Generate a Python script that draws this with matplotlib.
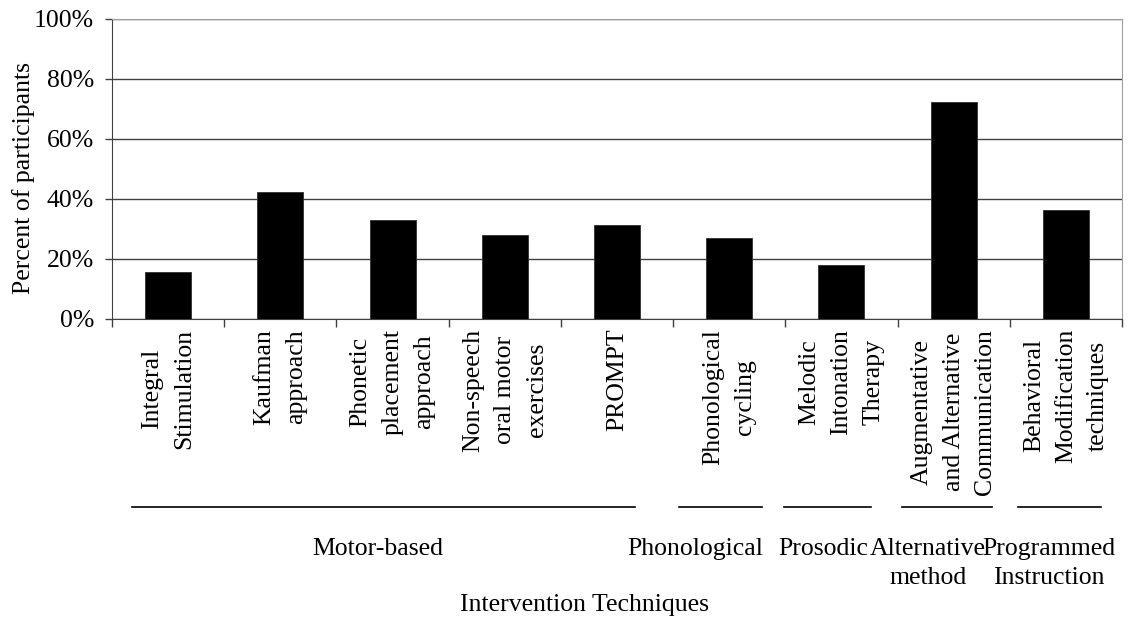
import matplotlib
matplotlib.use("Agg")
import matplotlib.pyplot as plt
from matplotlib.ticker import PercentFormatter


# Data

techniques = [
    "Integral\nStimulation",
    "Kaufman\napproach",
    "Phonetic\nplacement\napproach",
    "Non-speech\noral motor\nexercises",
    "PROMPT",
    "Phonological\ncycling",
    "Melodic\nIntonation\nTherapy",
    "Augmentative\nand Alternative\nCommunication",
    "Behavioral\nModification\ntechniques",
]

percent = [15.8, 42.4, 33.1, 28.1, 31.3, 26.9, 18.0, 72.4, 36.3]

groups = [
    "Motor-based",
    "Phonological",
    "Prosodic",
    "Alternative\nmethod",
    "Programmed\nInstruction",
]


# Layout of the group rules / labels under the axis (data x units)
group_line_start = [-0.32, 4.55, 5.49, 6.54, 7.57]
group_line_end = [4.16, 5.29, 6.26, 7.34, 8.31]
group_label_x = [1.87, 4.70, 5.84, 6.77, 7.85]


plt.rcParams["font.family"] = ["Liberation Serif", "DejaVu Serif"]
plt.rcParams["font.size"] = 18.5

fig = plt.figure(figsize=(11.35, 6.2), dpi=100)
ax = fig.add_axes([0.0987, 0.4855, 0.8898, 0.4839])

x = list(range(len(techniques)))

ax.bar(
    x,
    percent,
    width=0.41,
    color="black",
    edgecolor="#303030",
    linewidth=0.6,
    zorder=3,
)

ax.set_xlim(-0.5, len(techniques) - 0.5)
ax.set_ylim(0, 100)

# Y axis
ax.set_yticks([0, 20, 40, 60, 80, 100])
ax.yaxis.set_major_formatter(PercentFormatter(decimals=0))
ax.tick_params(axis="y", direction="out", length=5, width=1,
               color="#404040", pad=8)
ax.grid(axis="y", color="#404040", linewidth=1, zorder=0)
ax.set_ylabel("Percent of participants")
ax.yaxis.set_label_coords(-0.076, 0.47)

# X axis: labels at bar centres, tick marks at category edges
ax.set_xticks(x)
ax.set_xticklabels(techniques, rotation=90, va="top", ha="center",
                   multialignment="center", linespacing=1.58)
ax.tick_params(axis="x", which="major", length=0, pad=7)
ax.set_xticks([i - 0.5 for i in range(len(techniques) + 1)], minor=True)
ax.tick_params(axis="x", which="minor", direction="out", length=6,
               width=1, color="#404040")

for side in ["left", "bottom"]:
    ax.spines[side].set_color("#404040")
for side in ["top", "right"]:
    ax.spines[side].set_color("#a0a0a0")

# Group rules and labels
trans = ax.get_xaxis_transform()
for start, end, lx, name in zip(group_line_start, group_line_end,
                                group_label_x, groups):
    ax.plot([start, end], [-0.627, -0.627], color="black",
            linewidth=1.2, transform=trans, clip_on=False)
    ax.text(lx, -0.73, name, transform=trans, ha="center", va="top",
            multialignment="center", linespacing=1.4)

ax.text(3.71, -0.953, "Intervention Techniques", transform=trans,
        ha="center", va="center")

fig.savefig("out.png", dpi=100)
